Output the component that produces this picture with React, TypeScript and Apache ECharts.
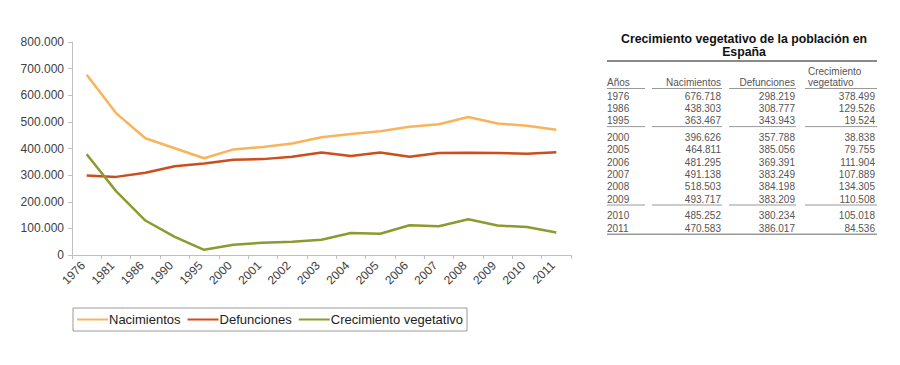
import React, { useEffect, useRef } from "react";
import * as echarts from "echarts";

const categories = ["1976", "1981", "1986", "1990", "1995", "2000", "2001", "2002", "2003", "2004", "2005", "2006", "2007", "2008", "2009", "2010", "2011"];
const nacimientos = [676718, 533000, 438303, 401000, 363467, 396626, 406000, 418800, 441900, 454600, 464811, 481295, 491138, 518503, 493717, 485252, 470583];
const defunciones = [298219, 293400, 308777, 333100, 343943, 357788, 360100, 368600, 384800, 371900, 385056, 369391, 383249, 384198, 383209, 380234, 386017];
const crecimiento = [378499, 240000, 129526, 68000, 19524, 38838, 46000, 50200, 57100, 82700, 79755, 111904, 107889, 134305, 110508, 105018, 84536];

const yTicks = { min: 0, max: 800000, interval: 100000 };

const tableTitle = ["Crecimiento vegetativo de la población en", "España"];
const tableHeaders = ["Años", "Nacimientos", "Defunciones", "Crecimiento", "vegetativo"];
const tableYears = ["1976", "1986", "1995", "2000", "2005", "2006", "2007", "2008", "2009", "2010", "2011"];
const tableNac = ["676.718", "438.303", "363.467", "396.626", "464.811", "481.295", "491.138", "518.503", "493.717", "485.252", "470.583"];
const tableDef = ["298.219", "308.777", "343.943", "357.788", "385.056", "369.391", "383.249", "384.198", "383.209", "380.234", "386.017"];
const tableCrec = ["378.499", "129.526", "19.524", "38.838", "79.755", "111.904", "107.889", "134.305", "110.508", "105.018", "84.536"];
const groupEnds = [2, 8];

const COLORS = ["#F9B35C", "#CC4E1D", "#8C9A2F"];
const FONT = "Liberation Sans, Arial, sans-serif";

function buildTable(): any[] {
  const els: any[] = [];
  const txt = (x: number, y: number, t: string, align: string, size = 10, bold = false, color = "#555", lh = 12) => ({
    type: "text",
    x,
    y,
    style: { text: t, fill: color, font: `${bold ? "bold " : ""}${size}px ${FONT}`, textAlign: align, textVerticalAlign: "middle", lineHeight: lh },
  });
  els.push(txt(744, 45.5, tableTitle.join("\n"), "center", 12.3, true, "#111", 13));
  const L = 607, R = 877;
  els.push({ type: "line", shape: { x1: L, y1: 61, x2: R, y2: 61 }, style: { stroke: "#8a8a8a", lineWidth: 2 } });
  const cols = [[607, 645], [652, 722], [729, 796], [805, 877]];
  els.push(txt(607, 82, tableHeaders[0], "left"));
  els.push(txt(721, 82, tableHeaders[1], "right"));
  els.push(txt(795, 82, tableHeaders[2], "right"));
  els.push(txt(808, 71, tableHeaders[3], "left"));
  els.push(txt(808, 82, tableHeaders[4], "left"));
  const seg = (y: number) => cols.forEach(([a, b]) => els.push({ type: "line", shape: { x1: a, y1: y, x2: b, y2: y }, style: { stroke: "#999", lineWidth: 1 } }));
  seg(88.5);
  let y = 96;
  const pitch = 12.4;
  tableYears.forEach((yr, i) => {
    els.push(txt(607, y, yr, "left"));
    els.push(txt(721, y, tableNac[i], "right"));
    els.push(txt(795, y, tableDef[i], "right"));
    els.push(txt(875, y, tableCrec[i], "right"));
    if (groupEnds.includes(i)) {
      seg(y + 5.8);
      y += 4;
    }
    y += pitch;
  });
  const by = y - pitch + 6.2;
  els.push({ type: "line", shape: { x1: L, y1: by, x2: R, y2: by }, style: { stroke: "#999", lineWidth: 1.5 } });
  return els;
}

export default function App() {
  const ref = useRef<HTMLDivElement>(null);
  useEffect(() => {
    if (!ref.current) return;
    const chart = echarts.init(ref.current, null, { renderer: "svg" });
    const fmt = (v: number) => (v === 0 ? "0" : `${Math.round(v / 1000)}.000`);
    const mk = (name: string, data: number[], color: string) => ({
      name,
      type: "line",
      data,
      symbol: "none",
      lineStyle: { width: 2.5, color },
      itemStyle: { color },
    });
    chart.setOption({
      animation: false,
      textStyle: { fontFamily: FONT },
      grid: { left: 72, right: 329, top: 42, bottom: 110, containLabel: false },
      xAxis: {
        type: "category",
        data: categories,
        boundaryGap: true,
        axisLine: { lineStyle: { color: "#BFBFBF", width: 1 } },
        axisTick: { show: true, interval: 0, length: 4, lineStyle: { color: "#BFBFBF" } },
        axisLabel: { interval: 0, rotate: 45, fontSize: 12, color: "#404040", margin: 5, padding: [0, 5, 0, 0] },
      },
      yAxis: {
        type: "value",
        min: yTicks.min,
        max: yTicks.max,
        interval: yTicks.interval,
        axisLine: { show: true, lineStyle: { color: "#BFBFBF", width: 1 } },
        axisTick: { show: true, length: 4, lineStyle: { color: "#BFBFBF" } },
        splitLine: { show: false },
        axisLabel: { fontSize: 12, color: "#404040", margin: 8, formatter: fmt },
      },
      legend: {
        left: 73,
        top: 308,
        itemWidth: 31,
        itemHeight: 2,
        itemGap: 7,
        icon: "rect",
        borderColor: "#9a9a9a",
        borderWidth: 1,
        borderRadius: 0,
        padding: [5, 4, 5, 4],
        textStyle: { fontSize: 13, color: "#222", padding: [0, 0, 0, -4] },
        data: ["Nacimientos", "Defunciones", "Crecimiento vegetativo"],
      },
      series: [
        mk("Nacimientos", nacimientos, COLORS[0]),
        mk("Defunciones", defunciones, COLORS[1]),
        mk("Crecimiento vegetativo", crecimiento, COLORS[2]),
      ],
      graphic: buildTable(),
    });
    return () => chart.dispose();
  }, []);
  return <div ref={ref} style={{ width: 900, height: 365, position: "absolute", left: 0, top: 0 }} />;
}
